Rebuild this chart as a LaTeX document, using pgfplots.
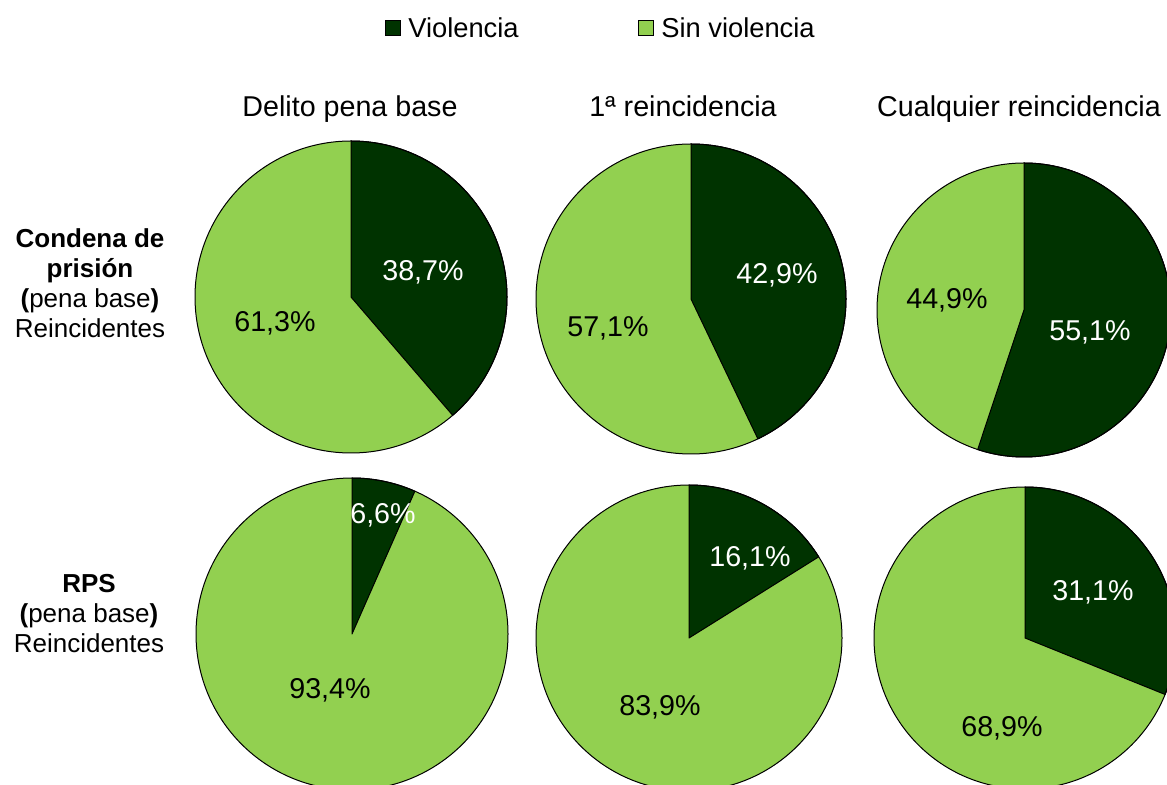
\documentclass[border=0pt]{standalone}
\usepackage{pgfplots}
\usepackage{pgfplotstable}
\pgfplotsset{compat=1.18}
\usepackage{fontspec}
\setmainfont{Liberation Sans}
\definecolor{viol}{HTML}{003300}
\definecolor{sinv}{HTML}{92D050}

% one row per pie: centre (px), radius (px), Violencia %, Sin violencia %, label positions (px)
\pgfplotstableread{
cx   cy  r   viol sin  lvx  lvy lsx  lsy
351  297 156 38.7 61.3 423  272 275  323
691  299 155 42.9 57.1 777  275 608  328
1024 310 147 55.1 44.9 1090 332 947  300
352  634 156 6.6  93.4 383  515 330  690
689  638 153 16.1 83.9 750  558 660  707
1025 638 151 31.1 68.9 1093 592 1002 728
}\piedata

\tikzset{
  pct/.style={font=\fontsize{21.5}{25}\selectfont, inner sep=0pt, anchor=center},
  ttl/.style={font=\fontsize{21.5}{25}\selectfont, inner sep=0pt, anchor=base},
  leg/.style={font=\fontsize{20.5}{24}\selectfont, inner sep=0pt, anchor=base west},
  rowl/.style={font=\fontsize{19.5}{22.5}\selectfont, inner sep=0pt, align=center, anchor=center},
}

\begin{document}
\begin{tikzpicture}
\begin{axis}[
  at={(0pt,0pt)}, anchor=south west,
  scale only axis, width=875.25pt, height=588.75pt,
  xmin=0, xmax=1167, ymin=0, ymax=785,
  hide axis, clip=false,
]
\pgfplotsinvokeforeach{0,...,5}{%
  \pgfplotstablegetelem{#1}{cx}\of\piedata \let\cx\pgfplotsretval
  \pgfplotstablegetelem{#1}{cy}\of\piedata \pgfmathsetmacro\cy{785-\pgfplotsretval}
  \pgfplotstablegetelem{#1}{r}\of\piedata \let\rr\pgfplotsretval
  \pgfmathsetmacro\rpt{0.75*\rr}
  \pgfmathsetmacro\top{\cy+\rr}
  \pgfplotstablegetelem{#1}{viol}\of\piedata \let\vv\pgfplotsretval
  \pgfplotstablegetelem{#1}{sin}\of\piedata \let\ss\pgfplotsretval
  \pgfmathsetmacro\ang{90-3.6*\vv}
  \pgfplotstablegetelem{#1}{lvx}\of\piedata \let\lvx\pgfplotsretval
  \pgfplotstablegetelem{#1}{lvy}\of\piedata \pgfmathsetmacro\lvy{785-\pgfplotsretval}
  \pgfplotstablegetelem{#1}{lsx}\of\piedata \let\lsx\pgfplotsretval
  \pgfplotstablegetelem{#1}{lsy}\of\piedata \pgfmathsetmacro\lsy{785-\pgfplotsretval}
  \edef\doit{%
    \noexpand\fill[sinv] (axis cs:\cx,\top) arc[start angle=90, end angle=-270, radius=\rpt pt] -- cycle;
    \noexpand\filldraw[fill=viol, draw=black, line width=0.75pt, line join=round]
      (axis cs:\cx,\cy) -- (axis cs:\cx,\top) arc[start angle=90, end angle=\ang, radius=\rpt pt] -- cycle;
    \noexpand\draw[black, line width=0.75pt] (axis cs:\cx,\top) arc[start angle=90, end angle=-270, radius=\rpt pt];
    \noexpand\node[pct, text=white] at (axis cs:\lvx,\lvy)
      {\noexpand\pgfmathprintnumber[fixed,fixed zerofill,precision=1,use comma,assume math mode=true]{\vv}\noexpand\%};
    \noexpand\node[pct, text=black] at (axis cs:\lsx,\lsy)
      {\noexpand\pgfmathprintnumber[fixed,fixed zerofill,precision=1,use comma,assume math mode=true]{\ss}\noexpand\%};
  }%
  \doit
}
% legend
\node[draw=black, fill=viol, line width=0.6pt, minimum size=11.5pt, inner sep=0pt] at (axis cs:393,757) {};
\node[leg] at (axis cs:408,747) {Violencia};
\node[draw=black, fill=sinv, line width=0.6pt, minimum size=11.5pt, inner sep=0pt] at (axis cs:646,757) {};
\node[leg] at (axis cs:661,747) {Sin violencia};
% column titles
\node[ttl] at (axis cs:350,668) {Delito pena base};
\node[ttl] at (axis cs:683,668) {1ª reincidencia};
\node[ttl] at (axis cs:1019,668) {Cualquier reincidencia};
% row labels
\node[rowl] at (axis cs:90,502) {\textbf{Condena de}\\\textbf{prisión}\\\textbf{(}pena base\textbf{)}\\Reincidentes};
\node[rowl] at (axis cs:89,171) {\textbf{RPS}\\\textbf{(}pena base\textbf{)}\\Reincidentes};
\end{axis}
\pgfresetboundingbox
\useasboundingbox (0pt,0pt) rectangle (875.25pt,588.75pt);
\end{tikzpicture}
\end{document}
